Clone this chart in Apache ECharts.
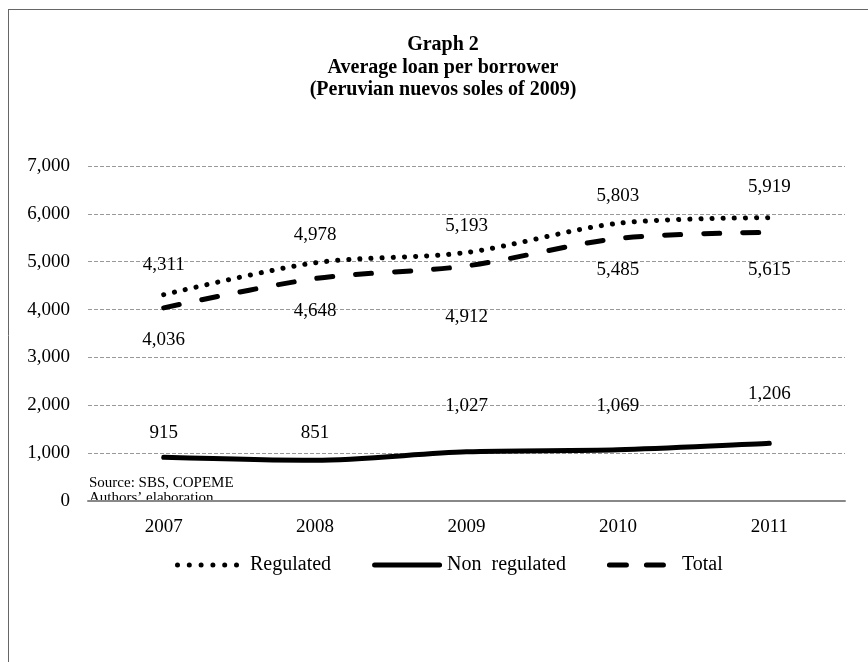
<!DOCTYPE html>
<html>
<head>
<meta charset="utf-8">
<script src="https://cdn.jsdelivr.net/npm/echarts@6/dist/echarts.min.js"></script>
<style>
  html, body { margin: 0; padding: 0; background: #fff; }
  #chart { width: 868px; height: 662px; }
</style>
</head>
<body>
<div id="chart"></div>
<script>
// Average loan per borrower, 2007-2011 (Peruvian nuevos soles of 2009)
var years = ['2007', '2008', '2009', '2010', '2011'];
var regulated = [4311, 4978, 5193, 5803, 5919];
var nonRegulated = [915, 851, 1027, 1069, 1206];
var total = [4036, 4648, 4912, 5485, 5615];
var yTicks = [0, 1000, 2000, 3000, 4000, 5000, 6000, 7000];

// per-point distance of each value label from its point
var regulatedLabelGap = [20, 18, 17, 18, 21];
var nonRegulatedLabelGap = [15, 18, 36, 34, 40];
var totalLabelGap = [23, 23, 42, 22, 28];

var serif = '"Liberation Serif", "Times New Roman", serif';
var FS = 19;

function fmt(v) {
  return v.toLocaleString('en-US');
}

function withLabels(values, gaps, position) {
  return values.map(function (v, i) {
    return { value: v, label: { show: true, distance: gaps[i], position: position } };
  });
}

// legend glyphs drawn in a 70 x 5 box: row of dots, one solid bar, two rounded dashes
function dotsPath() {
  var d = '';
  for (var i = 0; i < 6; i++) {
    var cx = 2.5 + i * 11.8;
    d += 'M' + (cx - 2.5) + ',2.5 A2.5,2.5 0 1 0 ' + (cx + 2.5) + ',2.5 A2.5,2.5 0 1 0 ' + (cx - 2.5) + ',2.5 Z ';
  }
  // invisible anchor so the glyph keeps the full box width
  d += 'M70,2.5 L70,2.5 Z';
  return 'path://' + d;
}
function barPath(x0, x1) {
  return 'M' + (x0 + 2.5) + ',0 H' + (x1 - 2.5) + ' A2.5,2.5 0 0 1 ' + (x1 - 2.5) + ',5 H' + (x0 + 2.5) +
    ' A2.5,2.5 0 0 1 ' + (x0 + 2.5) + ',0 Z ';
}

var labelStyle = {
  show: true, fontFamily: serif, fontSize: FS, color: '#000',
  formatter: function (p) { return fmt(p.value); }
};

var chart = echarts.init(document.getElementById('chart'), null, { renderer: 'canvas' });

chart.setOption({
  backgroundColor: '#ffffff',
  animation: false,
  title: {
    text: 'Graph 2\nAverage loan per borrower\n(Peruvian nuevos soles of 2009)',
    left: 438,
    top: 29,
    textAlign: 'center',
    textStyle: {
      fontFamily: serif,
      fontWeight: 'bold',
      fontSize: 20,
      lineHeight: 22.5,
      color: '#000'
    }
  },
  grid: { left: 88, right: 23, top: 166, bottom: 161 },
  legend: {
    top: 555,
    left: 175,
    padding: 0,
    itemWidth: 70,
    itemHeight: 5,
    itemGap: 41,
    symbolKeepAspect: false,
    textStyle: { fontFamily: serif, fontSize: 20, color: '#000' },
    data: [
      { name: 'Regulated', icon: dotsPath() },
      { name: 'Non  regulated', icon: 'path://' + barPath(0, 70) },
      { name: 'Total', icon: 'path://' + barPath(0, 22) + barPath(37, 59) + 'M70,2.5 L70,2.5 Z' }
    ]
  },
  xAxis: {
    type: 'category',
    data: years,
    boundaryGap: true,
    axisLine: { show: true, lineStyle: { color: '#888', width: 2 } },
    axisTick: { show: false },
    axisLabel: { fontFamily: serif, fontSize: FS, color: '#000', margin: 17 }
  },
  yAxis: {
    type: 'value',
    min: yTicks[0],
    max: yTicks[yTicks.length - 1],
    interval: 1000,
    axisLine: { show: false },
    axisTick: { show: false },
    axisLabel: {
      fontFamily: serif, fontSize: FS, color: '#000', margin: 18,
      formatter: function (v) { return fmt(v); }
    },
    splitLine: { lineStyle: { color: '#999', type: [4, 2], width: 1 } }
  },
  graphic: [
    { type: 'line', shape: { x1: 8.5, y1: 9, x2: 8.5, y2: 662 }, style: { stroke: '#666', lineWidth: 1 } },
    { type: 'line', shape: { x1: 8, y1: 9.5, x2: 868, y2: 9.5 }, style: { stroke: '#666', lineWidth: 1 } },
    {
      type: 'text', left: 89, top: 475, z: 0,
      style: { text: 'Source: SBS, COPEME\nAuthors\u2019 elaboration', font: '15px ' + serif, lineHeight: 15.5, fill: '#000' }
    }
  ],
  series: [
    {
      name: 'Regulated',
      type: 'line',
      smooth: 0.3,
      symbol: 'circle',
      symbolSize: 0.1,
      data: withLabels(regulated, regulatedLabelGap, 'top'),
      lineStyle: { color: '#000', width: 5, type: [0.1, 11], cap: 'round' },
      itemStyle: { color: '#000' },
      label: labelStyle
    },
    {
      name: 'Non  regulated',
      type: 'line',
      smooth: 0.3,
      symbol: 'circle',
      symbolSize: 0.1,
      data: withLabels(nonRegulated, nonRegulatedLabelGap, 'top'),
      lineStyle: { color: '#000', width: 5, cap: 'round' },
      itemStyle: { color: '#000' },
      label: labelStyle
    },
    {
      name: 'Total',
      type: 'line',
      smooth: 0.3,
      symbol: 'circle',
      symbolSize: 0.1,
      data: withLabels(total, totalLabelGap, 'bottom'),
      lineStyle: { color: '#000', width: 5, type: [16, 23], cap: 'round' },
      itemStyle: { color: '#000' },
      label: labelStyle
    }
  ]
});
</script>
</body>
</html>
